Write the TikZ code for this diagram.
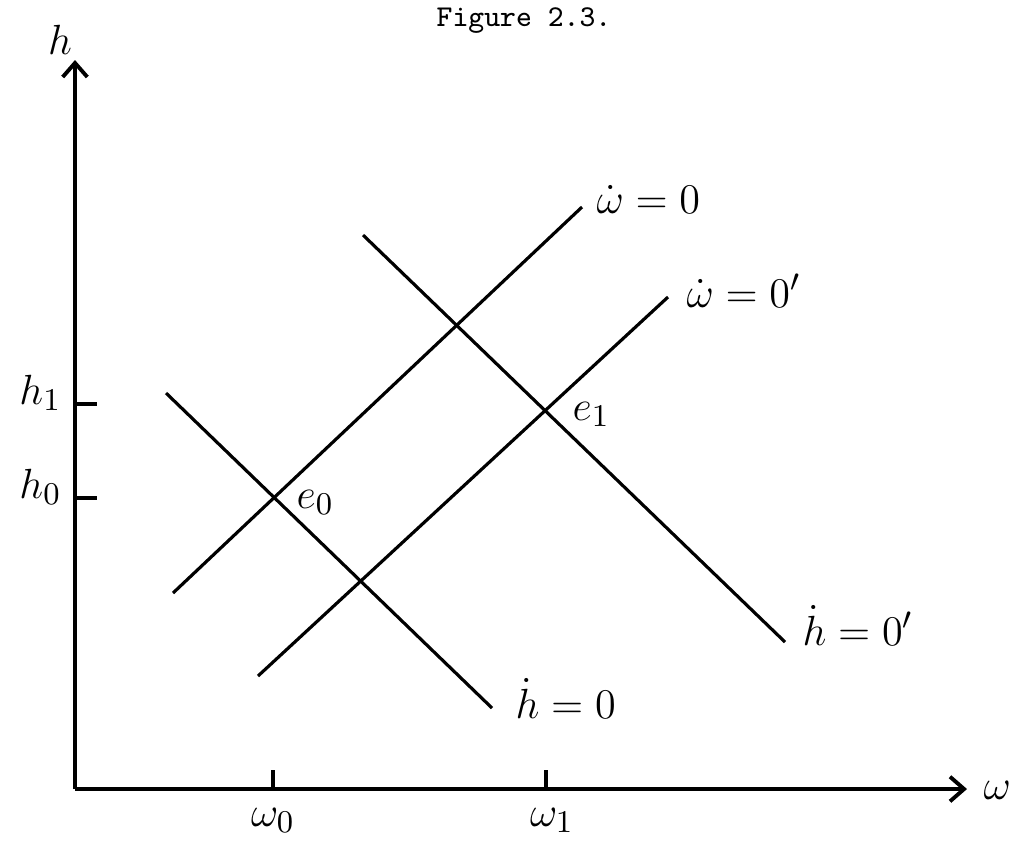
\documentclass[tikz,border=0pt]{standalone}
\usetikzlibrary{arrows.meta}
\begin{document}
\begin{tikzpicture}[x=0.01cm,y=-0.01cm,
 axis/.style={line width=1.1pt,-{Straight Barb[length=4pt,width=7pt,line width=1.1pt]}},
 curve/.style={line width=0.9pt},
 tick/.style={line width=1pt},
 lbl/.style={inner sep=0pt,font=\fontsize{13}{15}\selectfont}]
\useasboundingbox (0,0) rectangle (1019,850);
\node[font=\ttfamily\fontsize{8.6}{10}\selectfont] (cap) at (524,21) {Figure 2.3.};

\coordinate (o) at (75,789);
\coordinate (ytip) at (75,60);
\coordinate (xtip) at (967,789);
\draw[axis] (o) -- (ytip);
\draw[axis] (o) -- (xtip);
\node[lbl] (hax) at (60,40) {$h$};
\node[lbl,anchor=west] (wax) at (983,790) {$\omega$};

\coordinate (h1) at (75,404);
\coordinate (h0) at (75,498);
\coordinate (w0) at (273,789);
\coordinate (w1) at (546,789);
\draw[tick] (h1) -- ++(22,0);
\draw[tick] (h0) -- ++(22,0);
\draw[tick] (w0) -- ++(0,-19);
\draw[tick] (w1) -- ++(0,-19);
\node[lbl,anchor=base east] (h1l) at (62,404) {$h_1$};
\node[lbl,anchor=base east] (h0l) at (62,498) {$h_0$};
\node[lbl,anchor=base] (w0l) at (273,826) {$\omega_0$};
\node[lbl,anchor=base] (w1l) at (552,826) {$\omega_1$};

\coordinate (wa) at (173,593);
\coordinate (wb) at (582,207);
\coordinate (wc) at (258,676);
\coordinate (wd) at (668,297);
\coordinate (na) at (166,393);
\coordinate (nb) at (492,708);
\coordinate (nc) at (363,235);
\coordinate (nd) at (785,642);
\draw[curve] (wa) -- (wb);
\draw[curve] (wc) -- (wd);
\draw[curve] (na) -- (nb);
\draw[curve] (nc) -- (nd);

\node[lbl,anchor=base west] (wdot) at (596,213) {$\dot\omega = 0$};
\node[lbl,anchor=base west] (wdotp) at (686,307) {$\dot\omega = 0'$};
\node[lbl,anchor=base west] (hdot) at (515,718) {$\dot h = 0$};
\node[lbl,anchor=base west] (hdotp) at (802,645) {$\dot h = 0'$};
\node[lbl,anchor=base west] (e0) at (296,508) {$e_0$};
\node[lbl,anchor=base west] (e1) at (572,420) {$e_1$};
\end{tikzpicture}
\end{document}
